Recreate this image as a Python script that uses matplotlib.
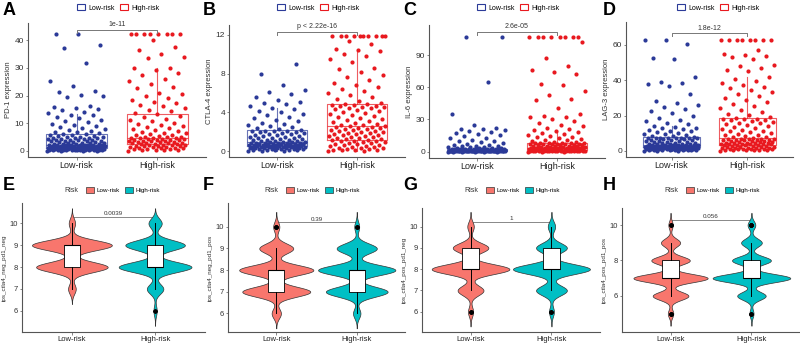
import numpy as np
import matplotlib.pyplot as plt
from matplotlib.patches import Patch

plt.rcParams['font.family'] = ['Liberation Sans', 'DejaVu Sans']

groups = ['Low-risk', 'High-risk']

# ---- top row: expression values (points) ----
pd1_low = [0.05, 0.08, 0.1, 0.12, 0.15, 0.18, 0.2, 0.22, 0.25, 0.28, 0.3, 0.33, 0.36, 0.4, 0.42, 0.45, 0.48, 0.5,
           0.53, 0.56, 0.6, 0.62, 0.65, 0.68, 0.7, 0.73, 0.76, 0.8, 0.82, 0.85, 0.88, 0.9, 0.93, 0.96, 0.99,
           1.02, 1.05, 1.08, 1.1, 1.14, 1.18, 1.2, 1.24, 1.28, 1.3, 1.35, 1.4, 1.44, 1.48, 1.5, 1.55, 1.6, 1.64,
           1.68, 1.7, 1.75, 1.8, 1.84, 1.88, 1.9, 1.95, 2.0, 2.04, 2.08, 2.1, 2.14, 2.18, 2.2, 2.25, 2.28,
           2.35, 2.4, 2.5, 2.6, 2.7, 2.8, 2.9, 3.0, 3.1, 3.2, 3.3, 3.4, 3.5, 3.6, 3.7, 3.8, 3.9, 4.0, 4.1, 4.2,
           4.3, 4.4, 4.5, 4.6, 4.7, 4.8, 4.9, 5.0, 5.2, 5.4, 5.5, 5.7, 5.8, 6.0, 6.1,
           6.4, 6.7, 7.0, 7.3, 7.6, 7.9, 8.2, 8.6, 9.0, 9.4, 9.8, 10.3, 10.8, 11.3, 11.8, 12.3, 12.8, 13.1,
           13.6, 14.2, 14.8, 15.3, 15.6, 15.8, 16.4, 19.6, 20.0, 20.3, 21.2, 21.7, 23.3, 25.3, 31.7, 37.0,
           38.3, 42.3, 42.3]
pd1_high = [0.1, 0.2, 0.3, 0.4, 0.5, 0.6, 0.7, 0.8, 0.9, 1.0, 1.1, 1.2, 1.3, 1.4, 1.5, 1.6, 1.7, 1.8, 1.9, 2.0,
            2.1, 2.2, 2.3, 2.4, 2.5, 2.6, 2.7, 2.8, 2.9, 3.0, 3.1, 3.2, 3.3, 3.4, 3.5, 3.6, 3.7, 3.8, 3.9, 4.0,
            4.1, 4.2, 4.3, 4.4, 4.5, 4.6, 4.7, 4.8, 4.9, 5.0, 5.2, 5.4, 5.6, 5.8, 6.0, 6.3, 6.6, 6.9, 7.2, 7.5,
            7.8, 8.1, 8.5, 8.9, 9.3, 9.7, 10.2, 10.7, 11.2, 11.7, 12.2, 12.7, 13.2, 13.8, 14.3, 14.9, 15.5,
            16.1, 16.6, 17.2, 17.8, 18.4, 19.0, 19.7, 20.4, 21.0, 22.6, 23.1, 24.3, 25.2, 25.9, 27.4, 28.3,
            29.4, 29.8, 30.1, 33.6, 34.1, 35.0, 36.3, 37.5, 40.1, 42.3, 42.3, 42.3, 42.3, 42.3, 42.3, 42.3, 42.3]
ctla4_low = [0.02, 0.04, 0.06, 0.08, 0.1, 0.12, 0.14, 0.16, 0.18, 0.2, 0.22, 0.24, 0.26, 0.28, 0.3, 0.31, 0.33,
             0.35, 0.36, 0.38, 0.4, 0.41, 0.42, 0.43, 0.44, 0.46, 0.47, 0.49,
             0.51, 0.52, 0.54, 0.55, 0.57, 0.58, 0.6, 0.61, 0.63, 0.64, 0.66, 0.67, 0.69, 0.7, 0.72, 0.73, 0.75,
             0.77, 0.78, 0.8, 0.82, 0.83, 0.85, 0.86, 0.88, 0.9, 0.92, 0.94,
             0.97, 1.0, 1.04, 1.08, 1.12, 1.16, 1.2, 1.24, 1.28, 1.32, 1.36, 1.4, 1.45, 1.5, 1.55, 1.6, 1.65,
             1.7, 1.75, 1.8, 1.85, 1.9, 1.95, 2.0, 2.05, 2.08, 2.1, 2.13,
             2.2, 2.3, 2.4, 2.5, 2.6, 2.7, 2.8, 2.95, 3.1, 3.25, 3.4, 3.55, 3.7, 3.85, 4.0, 4.15, 4.3, 4.4,
             4.7, 4.9, 5.0, 5.1, 5.3, 5.6, 5.9, 6.1, 6.3, 6.8, 8.0, 9.0]
ctla4_high = [0.02, 0.05, 0.08, 0.1, 0.13, 0.16, 0.2, 0.24, 0.28, 0.32, 0.36, 0.4, 0.45, 0.5, 0.55, 0.6, 0.65,
              0.7, 0.75, 0.8, 0.85, 0.9, 0.95, 1.0, 1.05, 1.1, 1.15, 1.18,
              1.25, 1.3, 1.35, 1.4, 1.45, 1.5, 1.55, 1.6, 1.65, 1.7, 1.75, 1.8, 1.85, 1.9, 1.95, 2.0, 2.05, 2.1,
              2.15, 2.2, 2.25, 2.3, 2.35, 2.4, 2.45, 2.5, 2.55, 2.58,
              2.65, 2.7, 2.8, 2.9, 3.0, 3.1, 3.2, 3.3, 3.4, 3.5, 3.6, 3.7, 3.8, 3.9, 4.0, 4.1, 4.2, 4.3, 4.4,
              4.5, 4.55, 4.6, 4.65, 4.7, 4.75, 4.8, 4.85, 4.88,
              5.0, 5.2, 5.4, 5.6, 5.8, 6.0, 6.2, 6.4, 6.6, 6.8, 7.0, 7.3, 7.6, 7.8, 8.2, 8.5, 8.6, 9.2, 9.5,
              9.8, 10.0, 10.3, 10.4, 10.5, 11.0, 11.3, 11.9, 11.9, 11.9, 11.9, 11.9, 11.9, 11.9, 11.9, 11.9, 11.9]
il6_low = [0.01, 0.02, 0.03, 0.04, 0.05, 0.06, 0.07, 0.08, 0.09, 0.1, 0.11, 0.12, 0.13, 0.14, 0.16, 0.18, 0.2,
           0.22, 0.24, 0.26, 0.28, 0.3, 0.32, 0.33, 0.34, 0.36, 0.37, 0.39,
           0.42, 0.45, 0.48, 0.5, 0.52, 0.55, 0.58, 0.6, 0.63, 0.66, 0.7, 0.72, 0.75, 0.78, 0.8, 0.83, 0.86,
           0.9, 0.93, 0.96, 1.0, 1.03, 1.06, 1.1, 1.12, 1.15, 1.17, 1.19,
           1.25, 1.3, 1.35, 1.4, 1.45, 1.5, 1.55, 1.6, 1.65, 1.7, 1.75, 1.8, 1.85, 1.9, 1.95, 2.0, 2.1, 2.2,
           2.25, 2.3, 2.35, 2.4, 2.45, 2.5, 2.6, 2.65, 2.7, 2.75,
           2.9, 3.1, 3.3, 3.5, 3.8, 4.1, 4.4, 4.8, 5.2, 5.6, 6.0, 6.4,
           7.2, 8.1, 8.8, 9.6, 10.3, 11.2, 12.4, 13.1, 14.2, 15.3, 16.4, 17.2, 18.4, 19.3, 20.1, 20.8, 21.4,
           22.2, 24.6, 34.7, 65.3, 106.5, 106.5]
il6_high = [0.01, 0.03, 0.05, 0.07, 0.1, 0.13, 0.16, 0.2, 0.24, 0.28, 0.32, 0.36, 0.4, 0.45, 0.5, 0.55, 0.6,
            0.66, 0.72, 0.78, 0.84, 0.9, 0.98, 1.05, 1.15, 1.25,
            1.35, 1.4, 1.5, 1.6, 1.7, 1.8, 1.9, 2.0, 2.1, 2.2, 2.3, 2.4, 2.5, 2.6, 2.7, 2.8, 2.9, 3.0, 3.1,
            3.2, 3.25, 3.3, 3.35, 3.4, 3.45, 3.48,
            3.6, 3.8, 4.0, 4.2, 4.4, 4.6, 4.8, 5.0, 5.2, 5.4, 5.6, 5.8, 6.0, 6.2, 6.4, 6.6, 6.8, 7.0, 7.2,
            7.4, 7.5, 7.6, 7.7, 7.8, 7.9, 7.95,
            8.3, 8.8, 9.3, 9.9, 10.5, 11.2, 11.9, 12.5, 13.2, 13.8, 14.6, 15.5, 16.4, 17.5,
            18.6, 19.4, 20.3, 21.2, 22.1, 23.5, 24.8, 26.7, 28.3, 30.5, 31.8, 32.4, 33.3, 35.0, 40.8, 48.2,
            49.1, 53.0, 56.9, 62.3, 63.1, 72.5, 74.0, 76.4, 80.2, 86.9, 101.8,
            106.5, 106.5, 106.5, 106.5, 106.5, 106.5, 106.5, 106.5]
lag3_low = [0.05, 0.1, 0.15, 0.2, 0.25, 0.3, 0.36, 0.42, 0.48, 0.55, 0.62, 0.7, 0.78, 0.86, 0.94, 1.0, 1.06,
            1.12, 1.2, 1.28, 1.36, 1.44, 1.52, 1.6, 1.68, 1.75, 1.82, 1.88,
            1.95, 2.0, 2.05, 2.1, 2.15, 2.2, 2.25, 2.3, 2.35, 2.4, 2.45, 2.5, 2.55, 2.6, 2.65, 2.7, 2.75, 2.8,
            2.85, 2.9, 2.95, 3.0, 3.1, 3.15, 3.2, 3.25, 3.3, 3.38,
            3.5, 3.6, 3.7, 3.8, 3.9, 4.0, 4.2, 4.4, 4.6, 4.8, 5.0, 5.2, 5.4, 5.6, 5.8, 6.0, 6.2, 6.4, 6.6,
            6.8, 7.0, 7.1, 7.2, 7.3, 7.4, 7.45, 7.5, 7.55,
            7.8, 8.2, 8.6, 9.0, 9.4, 9.8, 10.2, 10.6, 11.0, 11.4, 11.8, 12.2, 12.7, 13.1, 13.6, 14.1,
            15.0, 15.8, 16.7, 17.5, 18.6, 19.8, 21.2, 22.4, 23.6, 24.9, 26.1, 27.3, 28.0, 32.1, 36.5, 37.6,
            38.7, 39.2, 41.6, 51.8, 52.7, 60.8, 62.7, 62.7]
lag3_high = [0.1, 0.2, 0.3, 0.4, 0.5, 0.6, 0.7, 0.8, 0.9, 1.0, 1.1, 1.2, 1.3, 1.4, 1.5, 1.6, 1.7, 1.8, 1.9, 2.0,
             2.2, 2.4, 2.6, 2.8, 3.0, 3.1, 3.2, 3.3,
             3.5, 3.6, 3.7, 3.8, 3.9, 4.0, 4.1, 4.2, 4.3, 4.4, 4.5, 4.6, 4.8, 5.0, 5.2, 5.4, 5.6, 5.8, 6.0,
             6.1, 6.2, 6.3, 6.4, 6.5, 6.6, 6.7, 6.8, 6.9,
             7.2, 7.6, 8.0, 8.4, 8.8, 9.2, 9.6, 10.0, 10.5, 11.0, 11.5, 12.0, 12.5, 13.0, 13.5, 14.0, 14.5,
             15.0, 15.5, 16.0, 16.5, 17.0, 17.3, 17.6, 17.9, 18.1, 18.3, 18.5,
             19.2, 20.1, 21.0, 22.0, 23.1, 24.2, 25.3, 26.5, 27.6, 28.7, 29.9, 31.0, 32.2, 33.4, 34.6, 35.8,
             36.1, 37.3, 38.4, 39.6, 40.8, 41.9,
             45.4, 45.9, 47.2, 47.9, 48.6, 52.3, 53.2, 53.8, 54.5, 55.1, 57.1,
             62.7, 62.7, 62.7, 62.7, 62.7, 62.7, 62.7, 62.7]

# box statistics: [whislo, q1, median, q3, whishi]
pd1_box = [[0.0, 1.0, 2.3, 6.2, 13.2], [0.0, 2.5, 4.7, 13.5, 30.0]]
ctla4_box = [[0.0, 0.5, 0.95, 2.15, 4.45], [0.0, 1.2, 2.6, 4.9, 10.3]]
il6_box = [[0.0, 0.4, 1.2, 2.8, 6.5], [0.0, 1.3, 3.5, 8.0, 18.0]]
lag3_box = [[0.0, 1.9, 3.4, 7.6, 14.3], [0.0, 3.4, 7.0, 18.7, 42.0]]

top_labels = ['PD-1 expression', 'CTLA-4 expression', 'IL-6 expression', 'LAG-3 expression']
top_pvals = ['1e-11', 'p < 2.22e-16', '2.6e-05', '1.8e-12']
top_ticks = [[0, 10, 20, 30, 40], [0, 4, 8, 12], [0, 30, 60, 90], [0, 20, 40, 60]]

# ---- bottom row: IPS score counts per integer level ----
ips_levels = [5, 6, 7, 8, 9, 10]
ips_nn_low = [0, 0, 12, 112, 125, 10]
ips_nn_high = [0, 5, 25, 110, 90, 20]
ips_np_low = [0, 15, 110, 120, 55, 10]
ips_np_high = [0, 12, 100, 125, 65, 8]
ips_pn_low = [0, 8, 40, 120, 55, 10]
ips_pn_high = [0, 8, 50, 125, 50, 12]
ips_pp_low = [10, 65, 135, 70, 35, 8]
ips_pp_high = [8, 55, 150, 75, 40, 15]

bottom_labels = ['ips_ctla4_neg_pd1_neg', 'ips_ctla4_neg_pd1_pos', 'ips_ctla4_pos_pd1_neg', 'ips_ctla4_pos_pd1_pos']
bottom_pvals = ['0.0039', '0.39', '1', '0.056']
bottom_ticks = [[6, 7, 8, 9, 10], [6, 7, 8, 9, 10], [6, 7, 8, 9, 10], [6, 8, 10]]

blue = '#2B3A98'
red = '#E8191F'
salmon = '#F8766D'
teal = '#00BFC4'

W, H = 800, 345
fig = plt.figure(figsize=(8, 3.45), dpi=100)


def add_ax(left, right, top, bottom):
    return fig.add_axes([left / W, 1 - bottom / H, (right - left) / W, (bottom - top) / H])


def style_ax(ax, ticks, ylabel, xsize, ysize):
    for s in ['top', 'right']:
        ax.spines[s].set_visible(False)
    for s in ['left', 'bottom']:
        ax.spines[s].set_color('#555555')
        ax.spines[s].set_linewidth(0.8)
    ax.set_xticks([1, 2])
    ax.set_xticklabels(groups)
    ax.set_yticks(ticks)
    ax.tick_params(axis='both', length=1.8, width=0.5, color='#555555', pad=1)
    ax.tick_params(axis='x', labelsize=xsize, labelcolor='#222222')
    ax.tick_params(axis='y', labelsize=ysize, labelcolor='#333333')
    ax.set_ylabel(ylabel, fontsize=5.5, color='#333333', labelpad=2)
    ax.set_xlim(0.4, 2.6)


# top row
top_pos = [(28, 206, 23, 157), (229, 405, 25, 157), (429, 605, 25, 158), (626, 793, 22, 157)]
top_ylim = [(-2.2, 46.2), (-0.6, 13.0), (-6, 118), (-3.5, 73)]
top_bracket = [43.8, 12.3, 111.8, 66.7]
top_data = [(pd1_low, pd1_high, pd1_box), (ctla4_low, ctla4_high, ctla4_box),
            (il6_low, il6_high, il6_box), (lag3_low, lag3_high, lag3_box)]

for c in range(4):
    ax = add_ax(*top_pos[c])
    low, high, box = top_data[c]
    for i, (vals, col) in enumerate([(low, blue), (high, red)]):
        vals = np.sort(np.array(vals))
        off = ((np.arange(len(vals)) * 0.618034) % 1 - 0.5) * 0.72
        ax.scatter(i + 1 + off, vals, s=9, color=col, linewidths=0, zorder=2)
        st = dict(whislo=box[i][0], q1=box[i][1], med=box[i][2], q3=box[i][3], whishi=box[i][4], fliers=[])
        lp = dict(color=col, linewidth=0.8, alpha=0.7)
        ax.bxp([st], positions=[i + 1], widths=0.75, showcaps=False, showfliers=False,
               boxprops=lp, whiskerprops=lp, medianprops=lp, manage_ticks=False, zorder=3)
    style_ax(ax, top_ticks[c], top_labels[c], 6.5, 6)
    ax.set_ylim(*top_ylim[c])
    yb = top_bracket[c]
    dy = (top_ylim[c][1] - top_ylim[c][0]) * 0.025
    ax.plot([1, 1, 2, 2], [yb - dy, yb, yb, yb - dy], color='#777777', lw=0.7)
    ax.text(1.5, yb + dy * 0.4, top_pvals[c], ha='center', va='bottom', fontsize=5, color='#333333')
    fig.text((c * 200 + 3) / W, 1 - 2 / H, 'ABCD'[c], fontsize=13, fontweight='bold', va='top', ha='left')
    handles = [Patch(facecolor='white', edgecolor=blue, lw=0.8), Patch(facecolor='white', edgecolor=red, lw=0.8)]
    ax.legend(handles, groups, loc='center', bbox_to_anchor=((c * 200 + 118) / W, 1 - 8 / H),
              bbox_transform=fig.transFigure, ncol=2, frameon=False, fontsize=5,
              handlelength=1.2, handleheight=0.9, handletextpad=0.4, columnspacing=0.8)

# bottom row
bottom_pos = [(22, 205, 203, 332), (228, 405, 203, 332), (422, 600, 208, 332), (622, 800, 208, 332)]
bottom_ylim = [(5.03, 10.93), (5.14, 11.1), (5.05, 10.87), (3.96, 10.96)]
bottom_bracket = [10.29, 10.2, 10.21, 10.3]
bottom_data = [(ips_nn_low, ips_nn_high), (ips_np_low, ips_np_high),
               (ips_pn_low, ips_pn_high), (ips_pp_low, ips_pp_high)]
bw = 0.23

for c in range(4):
    ax = add_ax(*bottom_pos[c])
    dens_list = []
    for counts in bottom_data[c]:
        lv = np.array(ips_levels, dtype=float)
        cn = np.array(counts, dtype=float)
        present = lv[cn > 0]
        grid = np.linspace(present.min() - 3 * bw, present.max() + 3 * bw, 400)
        d = np.zeros_like(grid)
        for v, n in zip(lv, cn):
            d += n * np.exp(-0.5 * ((grid - v) / bw) ** 2)
        d /= cn.sum() * bw * np.sqrt(2 * np.pi)
        dens_list.append((grid, d))
    dmax = max(d.max() for _, d in dens_list)
    for i, ((grid, d), col) in enumerate(zip(dens_list, [salmon, teal])):
        half = d / dmax * 0.48
        ax.fill_betweenx(grid, i + 1 - half, i + 1 + half, facecolor=col, edgecolor='#333333', lw=0.5, zorder=1)
        raw = np.repeat(ips_levels, bottom_data[c][i])
        ax.boxplot([raw], positions=[i + 1], widths=0.2, patch_artist=True, showcaps=False,
                   boxprops=dict(facecolor='white', edgecolor='black', linewidth=0.6),
                   whiskerprops=dict(color='black', linewidth=0.7),
                   medianprops=dict(color='black', linewidth=0.8),
                   flierprops=dict(marker='o', markersize=1.8, markerfacecolor='black',
                                   markeredgecolor='black'),
                   manage_ticks=False, zorder=2)
    style_ax(ax, bottom_ticks[c], bottom_labels[c], 5.5, 5.5)
    ax.set_ylabel(bottom_labels[c], fontsize=4.5, color='#333333', labelpad=2)
    ax.set_ylim(*bottom_ylim[c])
    yb = bottom_bracket[c]
    ax.plot([1, 2], [yb, yb], color='#888888', lw=0.7, zorder=0)
    ax.text(1.5, yb + 0.04, bottom_pvals[c], ha='center', va='bottom', fontsize=4.5, color='#333333')
    fig.text((c * 200 + 3) / W, 1 - 177 / H, 'EFGH'[c], fontsize=13, fontweight='bold', va='top', ha='left')
    fig.text((c * 200 + 78) / W, 1 - 190 / H, 'Risk', fontsize=5, va='center', ha='right', color='#333333')
    handles = [Patch(facecolor=salmon, edgecolor='#333333', lw=0.5), Patch(facecolor=teal, edgecolor='#333333', lw=0.5)]
    ax.legend(handles, groups, loc='center left', bbox_to_anchor=((c * 200 + 80) / W, 1 - 190 / H),
              bbox_transform=fig.transFigure, ncol=2, frameon=False, fontsize=4.5,
              handlelength=1.3, handleheight=1.1, handletextpad=0.4, columnspacing=0.8)

fig.savefig('out.png', dpi=100)
